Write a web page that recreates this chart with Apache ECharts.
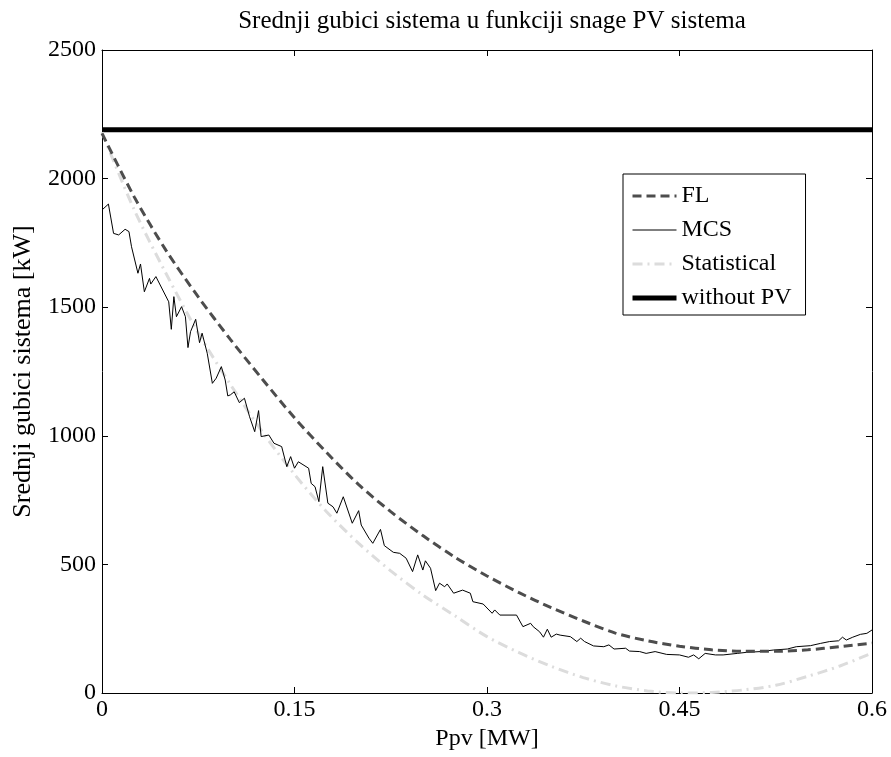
<!DOCTYPE html>
<html><head><meta charset="utf-8">
<script src="https://cdn.jsdelivr.net/npm/echarts@6/dist/echarts.min.js"></script>
<style>html,body{margin:0;padding:0;background:#fff}#c{width:891px;height:757px}</style>
</head><body><div id="c"></div>
<script>
const titleText = "Srednji gubici sistema u funkciji snage PV sistema";
const xName = "Ppv [MW]";
const yName = "Srednji gubici sistema [kW]";
const xTicks = [0, 0.15, 0.3, 0.45, 0.6];
const yTicks = [0, 500, 1000, 1500, 2000, 2500];

const smoothX = [0,0.025,0.05,0.075,0.1,0.125,0.15,0.175,0.2,0.225,0.25,0.275,0.3,0.325,0.35,0.375,0.4,0.425,0.45,0.475,0.5,0.525,0.55,0.575,0.6];
const flY   = [2176,1930,1720,1540,1375,1220,1070,935,810,705,612,528,455,390,332,280,233,203,182,168,162,162,168,180,194];
const statY = [2180,1880,1630,1400,1200,1015,850,705,582,475,381,300,219,157,104,60,28,8,0,2,12,30,65,105,155];

const mcsX = [0,0.005,0.009,0.013,0.018,0.021,0.023,0.028,0.030,0.033,0.037,0.038,0.042,0.052,0.054,0.056,0.058,0.062,0.065,0.067,0.069,0.073,0.076,0.078,0.082,0.086,0.089,0.093,0.096,0.098,0.100,0.103,0.107,0.111,0.115,0.119,0.122,0.124,0.130,0.134,0.140,0.144,0.147,0.150,0.153,0.161,0.163,0.166,0.169,0.172,0.176,0.180,0.183,0.188,0.195,0.200,0.202,0.208,0.211,0.217,0.220,0.227,0.232,0.237,0.242,0.246,0.250,0.252,0.256,0.260,0.263,0.267,0.269,0.274,0.281,0.287,0.289,0.297,0.304,0.306,0.310,0.323,0.328,0.334,0.336,0.341,0.344,0.347,0.350,0.354,0.357,0.365,0.370,0.373,0.376,0.383,0.391,0.395,0.399,0.408,0.411,0.419,0.424,0.431,0.440,0.450,0.457,0.461,0.465,0.470,0.478,0.484,0.495,0.502,0.513,0.523,0.534,0.541,0.552,0.560,0.567,0.574,0.577,0.580,0.585,0.591,0.596,0.600];
const mcsY = [1878,1901,1787,1781,1803,1794,1735,1632,1668,1560,1612,1590,1619,1521,1414,1541,1463,1502,1463,1343,1405,1453,1362,1399,1321,1204,1224,1269,1217,1155,1159,1171,1129,1146,1074,1016,1098,997,1003,971,958,880,919,874,899,874,815,802,744,880,738,724,699,763,660,709,653,602,582,636,573,547,543,524,472,537,478,514,485,398,427,413,424,388,400,388,355,346,310,323,303,303,258,271,258,238,217,248,217,229,225,219,200,213,200,183,180,187,171,174,163,161,154,161,150,148,139,148,133,154,148,148,154,158,161,167,171,180,184,193,200,203,217,206,217,228,232,245];

const noPvX = [0, 0.6];
const noPvY = [2190, 2190];

const zip = (a, b) => a.map((v, i) => [v, b[i]]);
const font = "'Liberation Serif', 'Times New Roman', serif";

const chart = echarts.init(document.getElementById('c'), null, {renderer: 'canvas'});
function axisCommon() {
  return {
    axisLine: {show: true, onZero: false, lineStyle: {color: '#000', width: 1}},
    axisTick: {show: true, inside: true, length: 6, lineStyle: {color: '#000'}},
    splitLine: {show: false}
  };
}
chart.setOption({
  animation: false,
  backgroundColor: '#fff',
  title: {text: titleText, left: 487, textAlign: 'center', top: 4,
    textStyle: {fontFamily: font, fontSize: 25, fontWeight: 'normal', color: '#000'}},
  grid: {left: 102, right: 19, top: 50, bottom: 64},
  legend: {
    orient: 'vertical', left: 623, top: 174,
    data: [
      {name: 'FL', lineStyle: {width: 3, color: '#4d4d4d', type: [9, 5]}},
      {name: 'MCS', lineStyle: {width: 1, color: '#000'}},
      {name: 'Statistical', lineStyle: {width: 3, color: '#dcdcdc', type: [10, 5, 2, 5]}},
      {name: 'without PV', lineStyle: {width: 5, color: '#000'}}
    ],
    itemWidth: 44, itemHeight: 14, itemGap: 10,
    padding: [10, 14, 5, 7],
    borderColor: '#000', borderWidth: 1, backgroundColor: '#fff',
    itemStyle: {opacity: 0},
    textStyle: {fontFamily: font, fontSize: 24, color: '#000'}
  },
  xAxis: [
    Object.assign({type: 'value', min: 0, max: 0.6, interval: 0.15, position: 'bottom',
      name: xName, nameLocation: 'middle', nameGap: 34,
      nameTextStyle: {fontFamily: font, fontSize: 24, color: '#000'},
      axisLabel: {fontFamily: font, fontSize: 24, color: '#000', margin: 5,
        formatter: v => String(+v.toFixed(2))}}, axisCommon()),
    Object.assign({type: 'value', min: 0, max: 0.6, interval: 0.15, position: 'top',
      axisLabel: {show: false}}, axisCommon())
  ],
  yAxis: [
    Object.assign({type: 'value', min: 0, max: 2500, interval: 500, position: 'left',
      name: yName, nameLocation: 'middle', nameGap: 66,
      nameTextStyle: {fontFamily: font, fontSize: 26, color: '#000'},
      axisLabel: {fontFamily: font, fontSize: 24, color: '#000', margin: 6,
        formatter: v => String(v)}}, axisCommon()),
    Object.assign({type: 'value', min: 0, max: 2500, interval: 500, position: 'right',
      axisLabel: {show: false}}, axisCommon())
  ],
  series: [
    {name: 'without PV', type: 'line', data: zip(noPvX, noPvY), symbol: 'none', z: 1,
      lineStyle: {color: '#000', width: 5}, itemStyle: {color: '#000'}},
    {name: 'Statistical', type: 'line', data: zip(smoothX, statY), symbol: 'none', smooth: 0.3, z: 2,
      lineStyle: {color: '#dcdcdc', width: 3, type: [10, 5, 2, 5]}, itemStyle: {color: '#dcdcdc'}},
    {name: 'MCS', type: 'line', data: zip(mcsX, mcsY), symbol: 'none', z: 3,
      lineStyle: {color: '#000', width: 1}, itemStyle: {color: '#000'}},
    {name: 'FL', type: 'line', data: zip(smoothX, flY), symbol: 'none', smooth: 0.3, z: 4,
      lineStyle: {color: '#4d4d4d', width: 3, type: [9, 5]}, itemStyle: {color: '#4d4d4d'}}
  ]
});
</script></body></html>
